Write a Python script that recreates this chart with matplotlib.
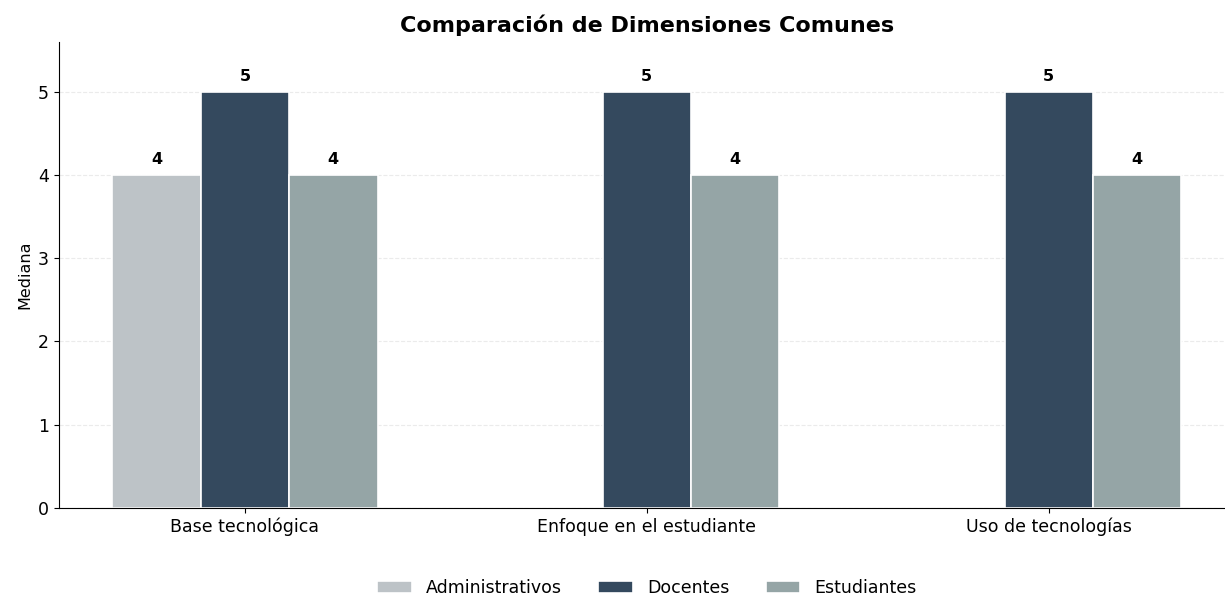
import numpy as np
import matplotlib.pyplot as plt

dimensiones = ['Base tecnológica', 'Enfoque en el estudiante', 'Uso de tecnologías']
grupos = ['Administrativos', 'Docentes', 'Estudiantes']
administrativos = [4, np.nan, np.nan]
docentes = [5, 5, 5]
estudiantes = [4, 4, 4]
colores = ['#bdc3c7', '#34495e', '#95a5a6']

fig, ax = plt.subplots(figsize=(12.25, 5.96), dpi=100)
x = np.arange(len(dimensiones))
w = 0.22
series = [administrativos, docentes, estudiantes]
for i, (nombre, vals, c) in enumerate(zip(grupos, series, colores)):
    pos = x + (i - 1) * w
    ax.bar(pos, vals, w, label=nombre, color=c, edgecolor='white', linewidth=1.2)
    for p, v in zip(pos, vals):
        if not np.isnan(v):
            ax.text(p, v + 0.09, f'{int(v)}', ha='center', va='bottom',
                    fontsize=11.5, fontweight='bold')

ax.set_xticks(x)
ax.set_xticklabels(dimensiones, fontsize=12.5)
ax.tick_params(axis='y', labelsize=12.5)
ax.set_ylabel('Mediana', fontsize=11.5)
ax.set_ylim(0, 5.6)
ax.set_title('Comparación de Dimensiones Comunes', fontsize=16, fontweight='bold', pad=7)
ax.grid(axis='y', linestyle='--', alpha=0.25)
ax.set_axisbelow(True)
ax.spines['top'].set_visible(False)
ax.spines['right'].set_visible(False)
ax.legend(loc='upper center', bbox_to_anchor=(0.5, -0.12), ncol=3, frameon=False,
          fontsize=12.5, handlelength=2.0, columnspacing=2.1)
plt.subplots_adjust(left=0.048, right=1.008, top=0.93, bottom=0.148)
plt.savefig('out.png')
